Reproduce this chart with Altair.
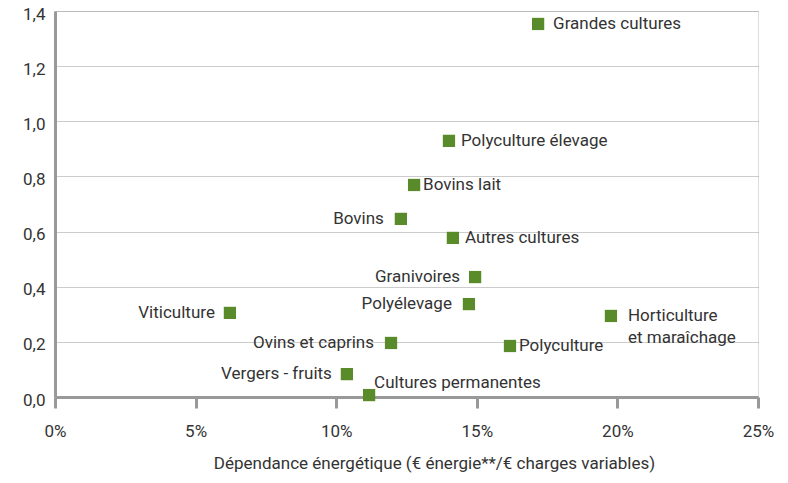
import altair as alt
import pandas as pd

names = ["Grandes cultures", "Polyculture élevage", "Bovins lait", "Bovins",
         "Autres cultures", "Granivoires", "Polyélevage", "Viticulture",
         "Horticulture et maraîchage", "Ovins et caprins", "Polyculture",
         "Vergers - fruits", "Cultures permanentes"]
dep_energie = [0.1718, 0.1401, 0.1277, 0.1230, 0.1415, 0.1494, 0.1472, 0.0622,
               0.1977, 0.1195, 0.1618, 0.1038, 0.1117]
y_vals = [1.353, 0.929, 0.769, 0.646, 0.577, 0.435, 0.337, 0.305,
          0.294, 0.196, 0.185, 0.083, 0.007]
labels = [["Grandes cultures"], ["Polyculture élevage"], ["Bovins lait"], ["Bovins"],
          ["Autres cultures"], ["Granivoires"], ["Polyélevage"], ["Viticulture"],
          ["Horticulture", "et maraîchage"], ["Ovins et caprins"], ["Polyculture"],
          ["Vergers - fruits"], ["Cultures permanentes"]]
x_ticks = [0, 0.05, 0.10, 0.15, 0.20, 0.25]
y_ticks = [0, 0.2, 0.4, 0.6, 0.8, 1.0, 1.2, 1.4]

df = pd.DataFrame({"name": names, "x": dep_energie, "y": y_vals, "label": labels})

FONT = "Roboto"
GREEN = "#5a8b2b"
TXT = "#333333"
FS = 17

xenc = alt.X("x:Q", scale=alt.Scale(domain=[0, 0.25], nice=False, zero=False),
             axis=alt.Axis(values=x_ticks, format=".0%",
                           title="Dépendance énergétique (€ énergie**/€ charges variables)",
                           grid=False, domainColor="#999999", domainWidth=3,
                           tickColor="#999999", tickWidth=3, tickSize=11,
                           labelFlush=False,
                           labelPadding=15, titlePadding=16, titleX=379,
                           labelFontSize=FS, titleFontSize=FS, labelColor=TXT,
                           titleColor=TXT, titleFontWeight="normal",
                           labelFont=FONT, titleFont=FONT))
yenc = alt.Y("y:Q", scale=alt.Scale(domain=[0, 1.4], nice=False),
             axis=alt.Axis(values=y_ticks, title=None,
                           labelExpr="replace(format(datum.value, '.1f'), '.', ',')",
                           grid=True, gridColor="#999999", gridDash=[1, 1], gridWidth=1,
                           domainColor="#999999", domainWidth=3, ticks=False,
                           labelFlush=False,
                           labelPadding=10, labelOffset=3, labelFontSize=FS,
                           labelColor=TXT, labelFont=FONT))

base = alt.Chart(df)
points = base.mark_square(size=150, color=GREEN, opacity=1).encode(x=xenc, y=yenc)


def text_layer(subset, align, dx, dy=0):
    return base.transform_filter(
        alt.FieldOneOfPredicate(field="name", oneOf=subset)
    ).mark_text(align=align, baseline="middle", dx=dx, dy=dy, font=FONT,
                fontSize=FS, color=TXT, lineHeight=22).encode(
        x=xenc, y=yenc, text="label")


layers = [
    points,
    text_layer(["Grandes cultures"], "left", 15),
    text_layer(["Polyculture élevage", "Autres cultures"], "left", 12),
    text_layer(["Bovins lait", "Polyculture"], "left", 9),
    text_layer(["Horticulture et maraîchage"], "left", 17, 0),
    text_layer(["Cultures permanentes"], "left", 5, -12),
    text_layer(["Bovins", "Polyélevage", "Ovins et caprins"], "right", -17),
    text_layer(["Granivoires", "Viticulture", "Vergers - fruits"], "right", -15),
]

chart = alt.layer(*layers).properties(
    width=703, height=386,
    autosize=alt.AutoSizeParams(type="none"),
    padding={"left": 47, "top": 3, "right": 20, "bottom": 78},
).configure_view(stroke=None).configure(background="white")

chart.save("out.html", embed_options={"renderer": "svg", "actions": False})
